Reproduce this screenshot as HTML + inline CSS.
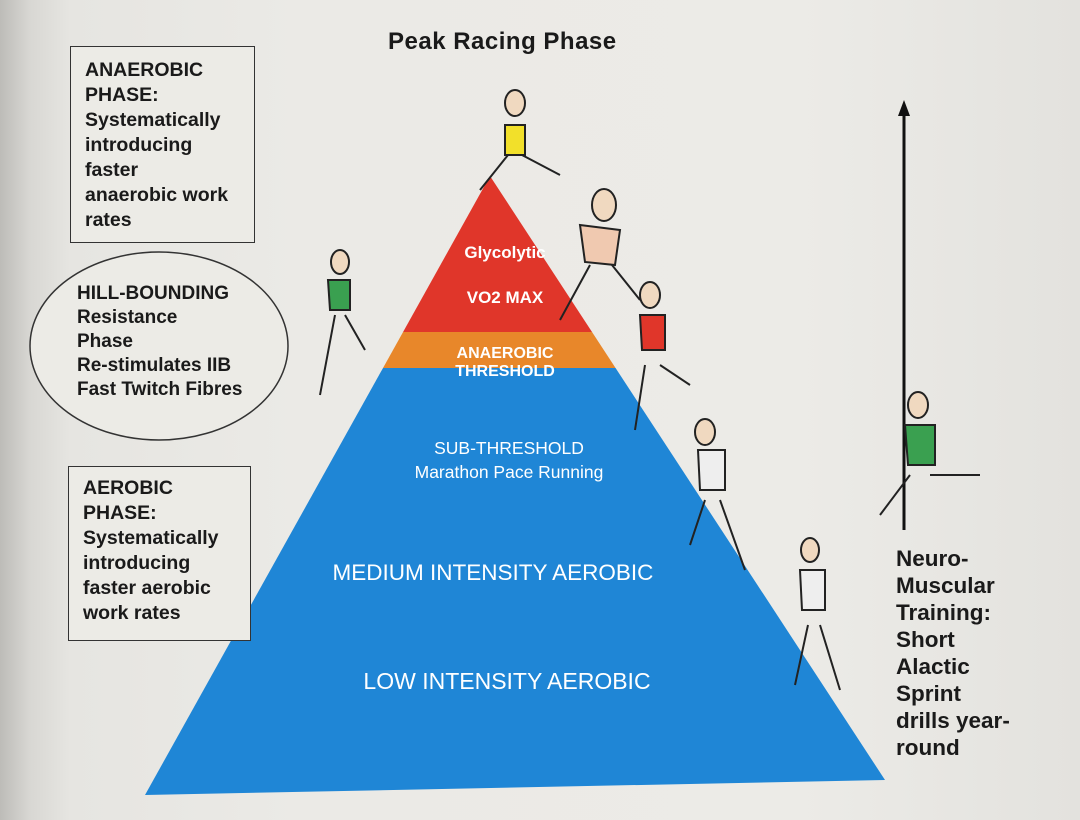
<!DOCTYPE html>
<html><head><meta charset="utf-8"><style>
html,body{margin:0;padding:0}
body{width:1080px;height:820px;overflow:hidden;position:relative;font-family:"Liberation Sans",Arial,sans-serif;
background:linear-gradient(90deg,#bdbcb8 0px,#d8d7d3 30px,#e6e5e1 70px,#ebeae6 300px,#ecebe7 800px,#e3e2de 1080px);}
.t{position:absolute;font-weight:bold;color:#1a1a1a;line-height:25px;font-size:19px}
.box{position:absolute;border:1.5px solid #333;background:#ecebe6}
.w{position:absolute;color:#fff;font-weight:bold;text-align:center;white-space:nowrap}
</style></head><body>
<svg width="1080" height="820" style="position:absolute;left:0;top:0">
  <defs><clipPath id="p"><polygon points="490,176 885,780 145,795"/></clipPath></defs>
  <g clip-path="url(#p)">
    <rect x="0" y="170" width="1080" height="162" fill="#e0362a"/>
    <rect x="0" y="332" width="1080" height="36" fill="#e8872a"/>
    <rect x="0" y="368" width="1080" height="440" fill="#1f86d6"/>
  </g>
  <line x1="904" y1="530" x2="904" y2="112" stroke="#111" stroke-width="3"/>
  <polygon points="904,100 898,116 910,116" fill="#111"/>
  <ellipse cx="159" cy="346" rx="129" ry="94" fill="#ecebe6" stroke="#333" stroke-width="1.5"/>
  <g stroke="#222" stroke-width="2" fill="none">
    <ellipse cx="515" cy="103" rx="10" ry="13" fill="#f0d9c0"/>
    <path d="M505 125 L525 125 L525 155 L505 155Z" fill="#f2e02a"/>
    <path d="M508 155 L480 190 M522 155 L560 175" />
    <ellipse cx="604" cy="205" rx="12" ry="16" fill="#f0d9c0"/>
    <path d="M580 225 L620 230 L615 265 L585 262Z" fill="#f0c9b0"/>
    <path d="M590 265 L560 320 M612 265 L640 300"/>
    <ellipse cx="650" cy="295" rx="10" ry="13" fill="#f0d9c0"/>
    <path d="M640 315 L665 315 L665 350 L642 350Z" fill="#e0362a"/>
    <path d="M645 365 L635 430 M660 365 L690 385"/>
    <ellipse cx="705" cy="432" rx="10" ry="13" fill="#f0d9c0"/>
    <path d="M698 450 L725 450 L725 490 L700 490Z" fill="#eee"/>
    <path d="M705 500 L690 545 M720 500 L745 570"/>
    <ellipse cx="810" cy="550" rx="9" ry="12" fill="#f0d9c0"/>
    <path d="M800 570 L825 570 L825 610 L802 610Z" fill="#eee"/>
    <path d="M808 625 L795 685 M820 625 L840 690"/>
    <ellipse cx="340" cy="262" rx="9" ry="12" fill="#f0d9c0"/>
    <path d="M328 280 L350 280 L350 310 L330 310Z" fill="#3aa050"/>
    <path d="M335 315 L320 395 M345 315 L365 350"/>
    <ellipse cx="918" cy="405" rx="10" ry="13" fill="#f0d9c0"/>
    <path d="M905 425 L935 425 L935 465 L908 465Z" fill="#3aa050"/>
    <path d="M910 475 L880 515 M930 475 L980 475"/>
  </g>
</svg>
<div class="t" style="left:388px;top:29px;font-size:24px;letter-spacing:0.5px">Peak Racing Phase</div>
<div class="box" style="left:70px;top:46px;width:183px;height:195px"></div>
<div class="t" style="left:85px;top:58px;font-size:19.5px">ANAEROBIC<br>PHASE:<br>Systematically<br>introducing<br>faster<br>anaerobic work<br>rates</div>
<div class="t" style="left:77px;top:282px;font-size:19px;line-height:24px">HILL-BOUNDING<br>Resistance<br>Phase<br>Re-stimulates IIB<br>Fast Twitch Fibres</div>
<div class="box" style="left:68px;top:466px;width:181px;height:173px"></div>
<div class="t" style="left:83px;top:476px;font-size:19.5px">AEROBIC<br>PHASE:<br>Systematically<br>introducing<br>faster aerobic<br>work rates</div>
<div class="t" style="left:896px;top:545px;font-size:22.5px;line-height:27px">Neuro-<br>Muscular<br>Training:<br>Short<br>Alactic<br>Sprint<br>drills year-<br>round</div>
<div class="w" style="left:450px;top:243px;width:110px;font-size:17px">Glycolytic</div>
<div class="w" style="left:450px;top:288px;width:110px;font-size:17px">VO2 MAX</div>
<div class="w" style="left:430px;top:345px;width:150px;font-size:16px;line-height:18px">ANAEROBIC<br>THRESHOLD</div>
<div class="w" style="left:384px;top:436px;width:250px;font-size:17.5px;line-height:24px;font-weight:normal">SUB-THRESHOLD<br>Marathon Pace Running</div>
<div class="w" style="left:293px;top:560px;width:400px;font-size:22.5px;font-weight:normal">MEDIUM INTENSITY AEROBIC</div>
<div class="w" style="left:307px;top:668px;width:400px;font-size:23px;font-weight:normal">LOW INTENSITY AEROBIC</div>
</body></html>
